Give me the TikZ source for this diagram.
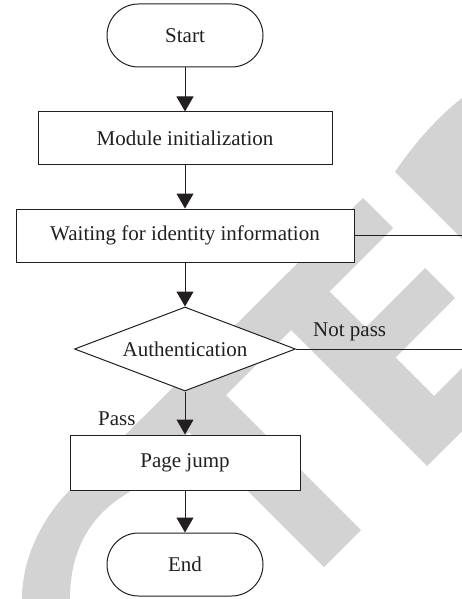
\documentclass[tikz,border=0pt]{standalone}
\usepackage{fontspec}
\setmainfont{Liberation Serif}
\usetikzlibrary{arrows.meta,shapes.geometric,shapes.misc}
\definecolor{wm}{RGB}{211,211,211}
\definecolor{ink}{RGB}{35,31,32}
\begin{document}
\begin{tikzpicture}[x=1pt,y=-1pt,
  every node/.style={font=\fontsize{21}{25}\selectfont, text=ink},
  base/.style={draw=ink, line width=1pt, fill=white, inner sep=0pt},
  term/.style={base, rounded rectangle, minimum width=156pt, minimum height=63pt},
  proc/.style={base, rectangle},
  decide/.style={base, diamond, shape aspect=2.6, minimum width=221pt, minimum height=84pt},
  flow/.style={draw=ink, line width=1pt, -{Triangle[length=15pt,width=17pt]}},
  link/.style={draw=ink, line width=1pt},
  wmark/.style={fill=wm, draw=none},
  lbl/.style={inner sep=0pt, anchor=base west}
]
\useasboundingbox (0,0) rectangle (462,599);
% watermark
\begin{scope}
\clip (0,0) rectangle (462,599);
\path[wmark] (363,198) -- (393,228) -- (128,493) .. controls (95,512) and (70,545) .. (70,599)
  -- (22,599) .. controls (22,555) and (45,515) .. (70,490) -- cycle;
\path[wmark] (211,380) -- (361,530) -- (324,567) -- (174,417) -- cycle;
\path[wmark] (314.5,276.5) -- (465.5,427.5) -- (427,466) -- (276,315) -- cycle;
\path[wmark] (425,268) -- (455,298) -- (376.5,376.5) -- (346.5,346.5) -- cycle;
\path[wmark] (415,415) -- (446.5,446.5) -- (496.5,396.5) -- (465,365) -- cycle;
\path[wmark] (395,172) .. controls (415,142) and (442,112) .. (470,92) -- (490,92) -- (490,267) -- cycle;
\end{scope}
% flowchart
\node[term] (start) at (185,35.5) {Start};
\node[proc, minimum width=294pt, minimum height=52pt] (init) at (185,138) {Module initialization};
\node[proc, minimum width=338pt, minimum height=53pt] (wait) at (185,235.5) {Waiting for identity information};
\node[decide] (auth) at (185,349) {Authentication};
\node[proc, minimum width=230pt, minimum height=55pt] (jump) at (185,462.5) {Page jump};
\node[term] (end) at (185,564.5) {End};
\coordinate (out1) at (462,235.5);
\coordinate (out2) at (462,349);
\draw[flow] (start) -- (init);
\draw[flow] (init) -- (wait);
\draw[flow] (wait) -- (auth);
\draw[flow] (auth) -- (jump);
\draw[flow] (jump) -- (end);
\draw[link] (wait.east) -- (out1);
\draw[link] (auth.east) -- (out2);
\node[lbl] (np) at (313,336) {Not pass};
\node[lbl] (ps) at (98,425) {Pass};
\end{tikzpicture}
\end{document}
